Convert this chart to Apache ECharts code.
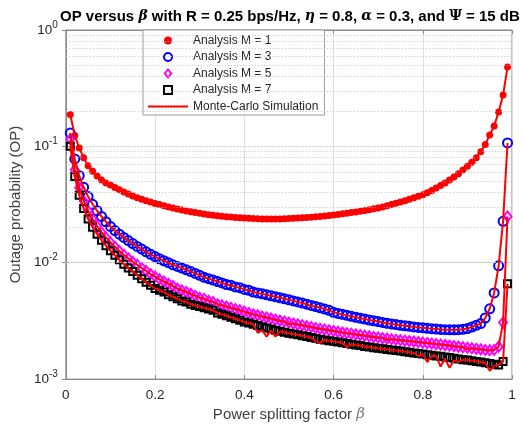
<!DOCTYPE html>
<html><head><meta charset="utf-8">
<script src="https://cdn.jsdelivr.net/npm/echarts@6/dist/echarts.min.js"></script>
<style>html,body{margin:0;padding:0;background:#fff}#c{width:524px;height:427px}</style>
</head><body><div id="c"></div>
<script>
const beta = [
0.01,0.02,0.03,0.04,0.05,0.06,0.07,0.08,0.09,0.10,
0.11,0.12,0.13,0.14,0.15,0.16,0.17,0.18,0.19,0.20,
0.21,0.22,0.23,0.24,0.25,0.26,0.27,0.28,0.29,0.30,
0.31,0.32,0.33,0.34,0.35,0.36,0.37,0.38,0.39,0.40,
0.41,0.42,0.43,0.44,0.45,0.46,0.47,0.48,0.49,0.50,
0.51,0.52,0.53,0.54,0.55,0.56,0.57,0.58,0.59,0.60,
0.61,0.62,0.63,0.64,0.65,0.66,0.67,0.68,0.69,0.70,
0.71,0.72,0.73,0.74,0.75,0.76,0.77,0.78,0.79,0.80,
0.81,0.82,0.83,0.84,0.85,0.86,0.87,0.88,0.89,0.90,
0.91,0.92,0.93,0.94,0.95,0.96,0.97,0.98,0.99];

const opM1 = [
.188,.124,.097,.080,.068,.061,.0555,.0515,.0485,.0465,
.0443,.0423,.0405,.0389,.0375,.0362,.0351,.0341,.0332,.0323,
.0316,.0309,.0302,.0295,.0289,.0284,.0279,.0274,.0270,.0266,
.0262,.0259,.0256,.0253,.0251,.0249,.0247,.0245,.0243,.0242,
.0241,.0240,.0239,.0238,.0238,.0238,.0238,.0238,.0239,.0240,
.0241,.0242,.0243,.0245,.0246,.0248,.0250,.0252,.0255,.0257,
.0260,.0263,.0266,.0270,.0273,.0277,.0281,.0286,.0291,.0296,
.0302,.0309,.0316,.0324,.0332,.0341,.0351,.0361,.0372,.0384,
.0400,.0418,.0438,.0460,.0485,.0514,.0546,.0582,.0625,.0675,
.0730,.0800,.0900,.104,.125,.150,.197,.276,.480];

const opM3 = [
.130,.078,.056,.0445,.0370,.0318,.0280,.0250,.0225,.0205,
.0189,.0176,.0165,.0155,.0146,.0138,.0131,.0124,.0118,.0113,
.0108,.0104,.0100,.0096,.0093,.0090,.0087,.0084,.0081,.0078,
.0075,.0073,.0071,.0069,.0067,.0065,.0064,.0062,.0061,.0059,
.0058,.0056,.0055,.0054,.0053,.0052,.0051,.0050,.0049,.0048,
.0047,.0046,.0045,.0044,.0043,.0042,.0041,.0040,.0039,.00375,
.00367,.00360,.00353,.00346,.00340,.00334,.00328,.00322,.00317,.00312,
.00307,.00302,.00298,.00294,.00290,.00287,.00284,.00281,.00278,.00276,
.00273,.00271,.00269,.00267,.00266,.00265,.00265,.00266,.00268,.00272,
.00280,.00290,.00300,.00335,.00402,.0055,.0094,.0227,.107];

const opM5 = [
.115,.063,.044,.034,.028,.0238,.0207,.0183,.0165,.0150,
.0137,.0126,.0117,.0109,.0102,.0096,.0090,.0085,.0080,.0076,
.0072,.0069,.0066,.0063,.0060,.0058,.0056,.0054,.0052,.0050,
.0049,.0047,.0046,.0044,.0043,.0042,.0041,.0040,.0039,.0038,
.0037,.0036,.00353,.00345,.00338,.00331,.00324,.00318,.00312,.00306,
.00300,.00295,.00290,.00285,.00280,.00275,.00271,.00267,.00263,.00259,
.00255,.00251,.00248,.00245,.00242,.00239,.00236,.00233,.00230,.00228,
.00225,.00223,.00220,.00218,.00216,.00214,.00212,.00210,.00208,.00206,
.00204,.00202,.00200,.00198,.00196,.00194,.00192,.00190,.00188,.00186,
.00184,.00182,.00180,.00178,.00177,.00178,.00190,.00306,.0250];

const opM7 = [
.100,.055,.038,.0292,.0238,.0202,.0176,.0156,.0140,.0127,
.0116,.0106,.0097,.0090,.0084,.0078,.0073,.0068,.0064,.0060,
.0058,.0056,.0053,.0051,.0049,.0047,.0046,.0044,.0043,.0042,
.0041,.0040,.0039,.0037,.0036,.0035,.0034,.0033,.0032,.0031,
.00303,.00296,.00289,.00282,.00275,.00269,.00263,.00258,.00253,.00248,
.00244,.00240,.00236,.00232,.00228,.00224,.00220,.00217,.00214,.00211,
.00208,.00205,.00202,.00199,.00196,.00194,.00191,.00189,.00186,.00184,
.00182,.00180,.00178,.00176,.00174,.00172,.00170,.00168,.00166,.00164,
.00162,.00160,.00158,.00157,.00155,.00153,.00151,.00149,.00147,.00146,
.00144,.00142,.00140,.00138,.00136,.00134,.00132,.00142,.0066];

// Monte-Carlo points that deviate from the analysis curves: [beta, OP]
const simDevM1 = [];
const simDevM3 = [[0.55,0.00425]];
const simDevM5 = [[0.50,0.00295],[0.72,0.00216],[0.90,0.00180]];
const simDevM7 = [[0.43,0.00250],[0.44,0.00264],[0.45,0.00232],[0.46,0.00262],[0.47,0.00232],
  [0.56,0.00212],[0.57,0.00205],[0.63,0.00188],[0.79,0.00158],[0.81,0.00140],[0.82,0.00158],
  [0.84,0.00128],[0.85,0.00150],[0.86,0.00125],[0.87,0.00145],[0.88,0.00140],[0.95,0.00118],[0.96,0.00130]];

const xTicks = [0, 0.2, 0.4, 0.6, 0.8, 1];
const yMinor = [0.002,0.003,0.004,0.005,0.006,0.007,0.008,0.009,
  0.02,0.03,0.04,0.05,0.06,0.07,0.08,0.09,
  0.2,0.3,0.4,0.5,0.6,0.7,0.8,0.9];

const names = ['Analysis M = 1','Analysis M = 3','Analysis M = 5','Analysis M = 7','Monte-Carlo Simulation'];

function pairs(ys){ return beta.map((b,i)=>[b, ys[i]]); }
function simPairs(ys, dev){
  const m = {}; dev.forEach(d => { m[d[0].toFixed(2)] = d[1]; });
  return beta.map((b,i)=>[b, (b.toFixed(2) in m) ? m[b.toFixed(2)] : ys[i]]);
}

const FONT = '"Liberation Sans", Arial, Helvetica, sans-serif';
const TXT = '#262626';
const AXC = '#8a8a8a';

const chart = echarts.init(document.getElementById('c'));

function scatter(name, ys, symbol, size, style){
  return {name, type:'scatter', data:pairs(ys), symbol, symbolSize:size,
    itemStyle:Object.assign({opacity:1}, style),
    z:3, animation:false, emphasis:{disabled:true}};
}
function simLine(ys, dev){
  return {name:names[4], type:'line', data:simPairs(ys, dev), symbol:'none', showSymbol:false,
    lineStyle:{color:'#ff0000', width:2}, itemStyle:{color:'#ff0000'}, z:5, animation:false};
}

const option = {
  backgroundColor:'#ffffff',
  animation:false,
  title:{
    text:'{t|OP versus }{g|β}{t| with R = 0.25 bps/Hz, }{g|η}{t| = 0.8, }{g|α}{t| = 0.3, and }{p|Ψ}{t| = 15 dB}',
    left:55, top:4,
    textStyle:{
      rich:{
        t:{fontFamily:FONT, fontWeight:'bold', fontSize:15, color:'#000'},
        g:{fontFamily:'"DejaVu Serif", serif', fontStyle:'italic', fontSize:14, color:'#000'},
        p:{fontFamily:'"DejaVu Serif", serif', fontSize:14, color:'#000'}
      }
    }
  },
  grid:{left:62, right:12, top:30, bottom:43, show:true, borderColor:AXC, borderWidth:1, backgroundColor:'#fff'},
  legend:{
    data:[
      {name:names[0], icon:'circle'},
      {name:names[1], icon:'circle'},
      {name:names[2], icon:'path://M4,0L8,5L4,10L0,5Z'},
      {name:names[3], icon:'path://M0,0H8V8H0Z'},
      {name:names[4], icon:'path://M0,0H40V2.2H0Z'}
    ],
    orient:'vertical', left:143, top:30,
    itemWidth:40, itemHeight:8, itemGap:3.5,
    padding:[4,6,2,5],
    backgroundColor:'#fff', borderColor:'#9a9a9a', borderWidth:1, borderRadius:0,
    textStyle:{fontFamily:FONT, fontSize:12, color:TXT, lineHeight:13},
    selectedMode:false
  },
  xAxis:[{
    type:'value', min:0, max:1, interval:0.2,
    name:'{n|Power splitting factor }{g|β}', nameLocation:'middle', nameGap:27,
    nameTextStyle:{rich:{
      n:{fontFamily:FONT, fontSize:15, color:'#404040'},
      g:{fontFamily:'"DejaVu Serif", serif', fontStyle:'italic', fontSize:15, color:'#7a7a7a'}}},
    axisLine:{show:true, lineStyle:{color:AXC}},
    axisTick:{show:true, inside:true, length:4, lineStyle:{color:AXC}},
    axisLabel:{fontFamily:FONT, fontSize:13.5, color:TXT, margin:9,
      formatter:v => { const t = xTicks.find(x => Math.abs(x - v) < 1e-9); return t === undefined ? '' : String(t); }},
    splitLine:{show:true, lineStyle:{color:'#dedede', width:1}}
  },{
    type:'value', min:0, max:1, interval:0.2, position:'top',
    axisLine:{show:true, lineStyle:{color:AXC}},
    axisTick:{show:true, inside:true, length:4, lineStyle:{color:AXC}},
    axisLabel:{show:false}, splitLine:{show:false}
  }],
  yAxis:[{
    type:'log', min:0.001, max:1, logBase:10,
    name:'Outage probability (OP)', nameLocation:'middle', nameGap:40,
    nameTextStyle:{fontFamily:FONT, fontSize:15, color:'#404040'},
    axisLine:{show:true, lineStyle:{color:AXC}},
    axisTick:{show:true, inside:true, length:4, lineStyle:{color:AXC}},
    axisLabel:{margin:8, formatter:v => '{a|10}{b|' + Math.round(Math.log10(v)) + '}',
      rich:{a:{fontFamily:FONT, fontSize:13.5, color:TXT},
            b:{fontFamily:FONT, fontSize:10, color:TXT, padding:[0,0,10,0]}}},
    splitLine:{show:true, lineStyle:{color:'#dedede', width:1}}
  },{
    type:'log', min:0.001, max:1, logBase:10, position:'right',
    axisLine:{show:true, lineStyle:{color:AXC}},
    axisTick:{show:true, inside:true, length:4, lineStyle:{color:AXC}},
    axisLabel:{show:false}, splitLine:{show:false}
  }],
  series:[
    {type:'line', data:[], z:1, silent:true, animation:false,
     markLine:{silent:true, symbol:'none', animation:false, label:{show:false},
       lineStyle:{type:[1,2], color:'#c4c4c4', width:1},
       emphasis:{disabled:true},
       data:yMinor.map(v => ({yAxis:v}))}},
    scatter(names[0], opM1, 'circle', 7, {color:'#ff0000'}),
    scatter(names[1], opM3, 'circle', 9, {color:'rgba(255,255,255,0)', borderColor:'#0000ff', borderWidth:2}),
    scatter(names[2], opM5, 'diamond', [8,10], {color:'rgba(255,255,255,0)', borderColor:'#ff00ff', borderWidth:2}),
    scatter(names[3], opM7, 'rect', 7, {color:'rgba(255,255,255,0)', borderColor:'#000000', borderWidth:2}),
    simLine(opM1, simDevM1),
    simLine(opM3, simDevM3),
    simLine(opM5, simDevM5),
    simLine(opM7, simDevM7)
  ]
};
chart.setOption(option);
</script>
</body></html>
